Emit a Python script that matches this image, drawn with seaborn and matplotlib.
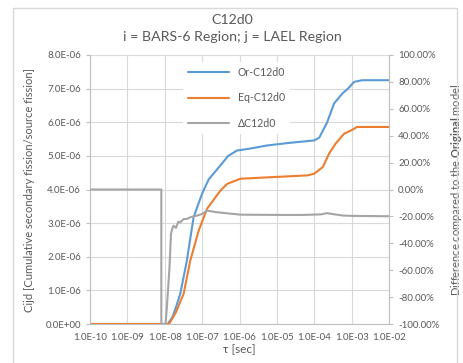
import numpy as np
import pandas as pd
import matplotlib.pyplot as plt
import seaborn as sns
from matplotlib.patches import Rectangle
from matplotlib.lines import Line2D
from matplotlib.ticker import NullLocator

# values
or_t = [1e-10, 1.2e-8, 1.6e-8, 2.0e-8, 2.6e-8, 3.9e-8, 5.9e-8, 1.0e-7, 1.5e-7, 3.1e-7,
        5e-7, 8.6e-7, 2e-6, 5.5e-6, 2.3e-5, 1.0e-4, 1.36e-4, 2.2e-4, 3.4e-4, 5.7e-4,
        8.0e-4, 1.16e-3, 1.9e-3, 1e-2]
or_v = [0, 0, 0.2e-6, 0.5e-6, 0.9e-6, 1.88e-6, 3.17e-6, 3.88e-6, 4.3e-6, 4.72e-6,
        5.0e-6, 5.16e-6, 5.22e-6, 5.31e-6, 5.39e-6, 5.46e-6, 5.54e-6, 5.99e-6, 6.56e-6, 6.86e-6,
        7.0e-6, 7.2e-6, 7.25e-6, 7.25e-6]

eq_t = [1e-10, 1.3e-8, 2.0e-8, 3.2e-8, 4.8e-8, 8.1e-8, 1.36e-7, 3.1e-7, 4.7e-7, 1.06e-6,
        8.2e-6, 6.6e-5, 1.0e-4, 1.7e-4, 2.5e-4, 3.7e-4, 6.3e-4, 9.8e-4, 1.4e-3, 1e-2]
eq_v = [0, 0, 0.35e-6, 0.9e-6, 1.88e-6, 2.78e-6, 3.43e-6, 3.97e-6, 4.17e-6, 4.32e-6,
        4.37e-6, 4.42e-6, 4.47e-6, 4.67e-6, 5.07e-6, 5.36e-6, 5.66e-6, 5.76e-6, 5.86e-6, 5.86e-6]

d_t = [1e-10, 8.1e-9, 8.1e-9, 1.05e-8, 1.14e-8, 1.34e-8, 1.47e-8, 1.6e-8, 1.72e-8, 2.0e-8,
       2.3e-8, 2.6e-8, 3.2e-8, 3.9e-8, 5.0e-8, 7.3e-8, 1.0e-7, 1.35e-7, 2.5e-7, 4.7e-7,
       1.06e-6, 8e-6, 5e-5, 1.5e-4, 2.2e-4, 3.0e-4, 6e-4, 1e-3, 1e-2]
d_v = [0, 0, -100, -100, -87.6, -57.8, -32.8, -29.0, -26.9, -28.5,
       -24.0, -24.4, -22.0, -21.9, -20.5, -19.4, -18.2, -15.7, -16.9, -17.7,
       -18.7, -18.9, -18.9, -18.5, -17.6, -18.2, -19.4, -19.6, -19.9]

x_ticks = [1e-10, 1e-9, 1e-8, 1e-7, 1e-6, 1e-5, 1e-4, 1e-3, 1e-2]
x_labels = ['1.0E-10', '1.0E-09', '1.0E-08', '1.0E-07', '1.0E-06', '1.0E-05', '1.0E-04', '1.0E-03', '1.0E-02']
y_ticks = [0, 1e-6, 2e-6, 3e-6, 4e-6, 5e-6, 6e-6, 7e-6, 8e-6]
y_labels = ['0.0E+00', '1.0E-06', '2.0E-06', '3.0E-06', '4.0E-06', '5.0E-06', '6.0E-06', '7.0E-06', '8.0E-06']
y2_ticks = [-100, -80, -60, -40, -20, 0, 20, 40, 60, 80, 100]
y2_labels = ['-100.00%', '-80.00%', '-60.00%', '-40.00%', '-20.00%', '0.00%',
             '20.00%', '40.00%', '60.00%', '80.00%', '100.00%']

blue, orange, grey = '#5B9BD5', '#ED7D31', '#A5A5A5'
txt = '#595959'
axc = '#BFBFBF'

sns.set_style('white')
plt.rcParams['font.family'] = ['Lato', 'DejaVu Sans']
plt.rcParams['mathtext.fontset'] = 'custom'
plt.rcParams['mathtext.bf'] = 'Lato:bold'

fig = plt.figure(figsize=(4.64, 3.63), dpi=100)
fig.add_artist(Rectangle((13 / 464, -0.1), 444 / 464, 1.1 - 8 / 363, transform=fig.transFigure,
                         fill=False, edgecolor='#D9D9D9', lw=1))
ax = fig.add_axes([90 / 464, 1 - 324 / 363, 299 / 464, 269 / 363])
ax.set_xscale('log')
ax2 = ax.twinx()

sns.lineplot(x=or_t, y=or_v, ax=ax, color=blue, lw=1.5, estimator=None, sort=False)
sns.lineplot(x=eq_t, y=eq_v, ax=ax, color=orange, lw=1.5, estimator=None, sort=False)
sns.lineplot(x=d_t, y=d_v, ax=ax2, color=grey, lw=1.5, estimator=None, sort=False)

ax.set_xlim(1e-10, 1e-2)
ax.set_ylim(0, 8e-6)
ax2.set_ylim(-100, 100)
ax.set_xticks(x_ticks)
ax.set_xticklabels(x_labels)
ax.xaxis.set_minor_locator(NullLocator())
ax.set_yticks(y_ticks)
ax.set_yticklabels(y_labels)
ax2.set_yticks(y2_ticks)
ax2.set_yticklabels(y2_labels)

ax.grid(True, color='#D9D9D9', lw=0.8)
ax.set_axisbelow(True)
for a in (ax, ax2):
    for s in a.spines.values():
        s.set_visible(False)
    a.tick_params(colors=axc, labelcolor=txt, labelsize=7, length=3, width=0.8, direction='out')
ax.spines['left'].set_visible(True)
ax.spines['bottom'].set_visible(True)
ax2.spines['right'].set_visible(True)
for s in (ax.spines['left'], ax.spines['bottom'], ax2.spines['right']):
    s.set_color(axc)
    s.set_linewidth(0.8)

ax.set_xlabel('τ [sec]', color=txt, fontsize=8.5)
ax.xaxis.set_label_coords(0.5, -0.075)
ax.set_ylabel('Cijd [Cumulative secondary fission/source fission]', color=txt, fontsize=8)
ax.yaxis.set_label_coords(-0.185, 0.5)
ax2.set_ylabel(r'Difference compared to the $\bf{Original}$ model', color=txt, fontsize=8)
ax2.yaxis.set_label_coords(1.2, 0.5)

fig.text(0.5, 1 - 20 / 363, 'C12d0', ha='center', va='center', color=txt, fontsize=10.2)
fig.text(0.5, 1 - 37 / 363, 'i = BARS-6 Region; j = LAEL Region', ha='center', va='center',
         color=txt, fontsize=10.2)

handles = [Line2D([], [], color=blue, lw=1.5), Line2D([], [], color=orange, lw=1.5),
           Line2D([], [], color=grey, lw=1.5)]
leg = ax2.legend(handles, ['Or-C12d0', 'Eq-C12d0', 'ΔC12d0'], loc='upper left',
                 bbox_to_anchor=(0.31, 0.975), borderaxespad=0, frameon=True, framealpha=1,
                 edgecolor='none', facecolor='white', fancybox=False, fontsize=7.6,
                 handlelength=3.9, labelspacing=1.35, handletextpad=0.8, borderpad=0.5)
for t in leg.get_texts():
    t.set_color(txt)

fig.savefig('out.png', dpi=100)
